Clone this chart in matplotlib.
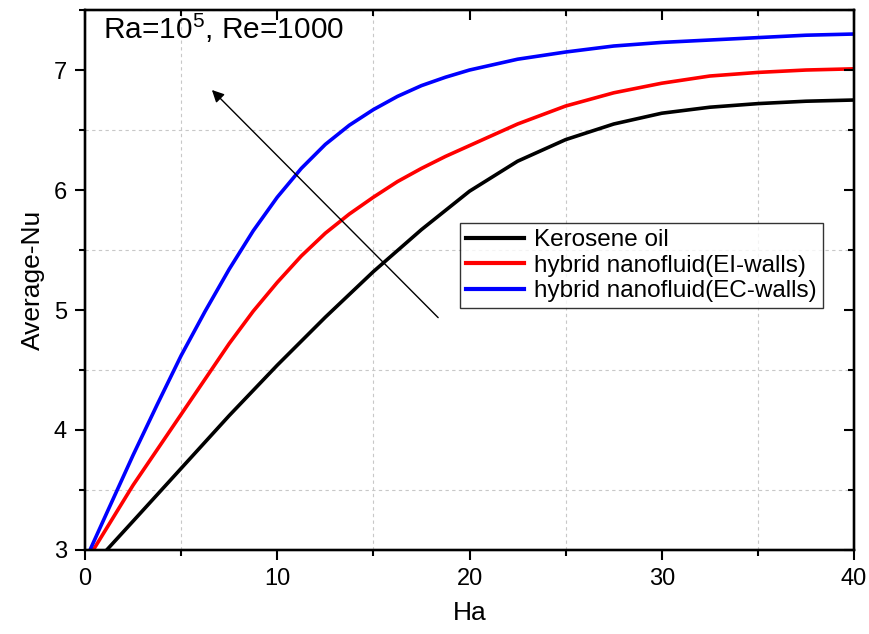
import matplotlib
matplotlib.use("Agg")
import matplotlib.pyplot as plt
from matplotlib.ticker import MultipleLocator

plt.rcParams['font.family'] = ['Liberation Sans', 'DejaVu Sans']
plt.rcParams['mathtext.fontset'] = 'custom'
plt.rcParams['mathtext.rm'] = 'Liberation Sans'
plt.rcParams['mathtext.it'] = 'Liberation Sans'

# values
ha_kero = [1.13, 2.5, 5, 7.5, 10, 12.5, 15, 17.5, 20, 22.5, 25, 27.5, 30, 32.5, 35, 37.5, 40]
nu_kero = [3.0, 3.24, 3.68, 4.12, 4.54, 4.94, 5.32, 5.67, 5.99, 6.24, 6.42, 6.55, 6.64, 6.69, 6.72, 6.74, 6.75]

ha_ei = [0.43, 2.5, 5, 7.5, 8.75, 10, 11.25, 12.5, 13.75, 15, 16.25, 17.5, 18.75, 20,
         22.5, 25, 27.5, 30, 32.5, 35, 37.5, 40]
nu_ei = [3.0, 3.54, 4.13, 4.72, 4.99, 5.23, 5.45, 5.64, 5.80, 5.94, 6.07, 6.18, 6.28, 6.37,
         6.55, 6.7, 6.81, 6.89, 6.95, 6.98, 7.0, 7.01]

ha_ec = [0.26, 1.25, 2.5, 3.75, 5, 6.25, 7.5, 8.75, 10, 11.25, 12.5, 13.75, 15, 16.25, 17.5, 18.75, 20,
         22.5, 25, 27.5, 30, 32.5, 35, 37.5, 40]
nu_ec = [3.0, 3.35, 3.79, 4.21, 4.62, 4.99, 5.34, 5.66, 5.94, 6.18, 6.38, 6.54, 6.67, 6.78, 6.87, 6.94, 7.0,
         7.09, 7.15, 7.2, 7.23, 7.25, 7.27, 7.29, 7.3]

labels = ['Kerosene oil', 'hybrid nanofluid(EI-walls)', 'hybrid nanofluid(EC-walls)']

fig = plt.figure(figsize=(8.69, 6.34), dpi=100)
ax = fig.add_axes([0.0978, 0.1325, 0.885, 0.8517])

ax.plot(ha_kero, nu_kero, color='black', lw=2.6, label=labels[0])
ax.plot(ha_ei, nu_ei, color='#ff0000', lw=2.6, label=labels[1])
ax.plot(ha_ec, nu_ec, color='#0000ff', lw=2.6, label=labels[2])

ax.set_xlim(0, 40)
ax.set_ylim(3, 7.5)
ax.xaxis.set_major_locator(MultipleLocator(10))
ax.xaxis.set_minor_locator(MultipleLocator(5))
ax.yaxis.set_major_locator(MultipleLocator(1))
ax.yaxis.set_minor_locator(MultipleLocator(0.5))
ax.grid(which='minor', color='#c8c8c8', ls=(0, (3, 3)), lw=0.8)
ax.grid(which='major', visible=False)

for s in ax.spines.values():
    s.set_linewidth(1.6)
ax.tick_params(which='major', direction='out', length=7, width=1.5, labelsize=17, pad=6)
ax.tick_params(which='minor', direction='out', length=4, width=1.5)

# mirrored ticks on top and right, pointing in
top = ax.twiny()
top.set_xlim(ax.get_xlim())
top.xaxis.set_major_locator(MultipleLocator(10))
top.xaxis.set_minor_locator(MultipleLocator(5))
top.tick_params(which='major', direction='in', length=7, width=1.5, labeltop=False)
top.tick_params(which='minor', direction='in', length=4, width=1.5)
right = ax.twinx()
right.set_ylim(ax.get_ylim())
right.yaxis.set_major_locator(MultipleLocator(1))
right.yaxis.set_minor_locator(MultipleLocator(0.5))
right.tick_params(which='major', direction='in', length=7, width=1.5, labelright=False)
right.tick_params(which='minor', direction='in', length=4, width=1.5)
for a in (top, right):
    for s in a.spines.values():
        s.set_linewidth(1.6)

ax.set_xlabel('Ha', fontsize=19, labelpad=8)
ax.set_ylabel('Average-Nu', fontsize=19, labelpad=6)

ax.text(0.0234, 0.946, r'Ra=10$^5$, Re=1000', transform=ax.transAxes,
        fontsize=21.5, va='baseline', ha='left')

ax.annotate('', xy=(6.5, 6.85), xytext=(18.47, 4.92),
            arrowprops=dict(arrowstyle='-|>', color='black', lw=1, mutation_scale=18))

leg = right.legend(*ax.get_legend_handles_labels(), loc='upper left',
                   bbox_to_anchor=(0.4876, 0.6056), borderaxespad=0,
                   fontsize=17.5, frameon=True, fancybox=False, edgecolor='black',
                   handlelength=2.4, handletextpad=0.4, labelspacing=0.15, borderpad=0.25)
leg.get_frame().set_linewidth(1.0)
for h in leg.get_lines():
    h.set_linewidth(3)

fig.savefig('out.png', dpi=100)
